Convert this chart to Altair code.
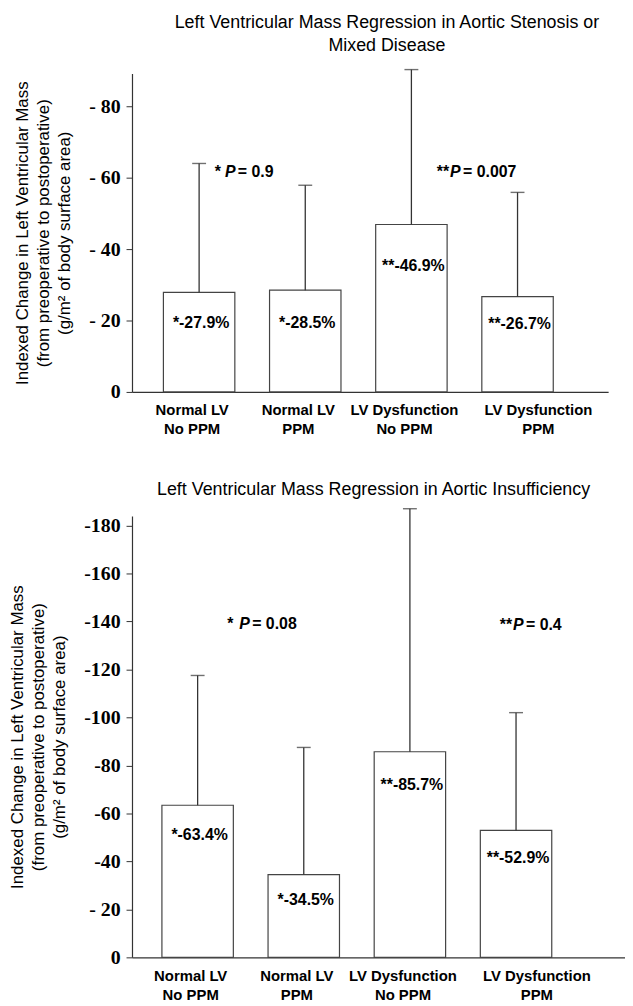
import altair as alt
import pandas as pd

# ---------------- data ----------------
cats = ["Normal LV|No PPM", "Normal LV|PPM", "LV Dysfunction|No PPM", "LV Dysfunction|PPM"]

top_title = ["Left Ventricular Mass Regression in Aortic Stenosis or", "Mixed Disease"]
top_vals = [-27.9, -28.5, -46.9, -26.7]
top_err = [-64.0, -57.9, -90.3, -55.9]
top_lbl = ["*-27.9%", "*-28.5%", "**-46.9%", "**-26.7%"]
top_lbl_y = [-19.2, -19.2, -35.4, -19.0]
top_ticks = [-80, -60, -40, -20, 0]
top_p_cat = [cats[0], cats[2]]
top_p_pre = ["*", "**"]
top_p_val = ["= 0.9", "= 0.007"]
top_p_y = [-61.7, -61.7]
top_p_dx = [26, 39]
top_p_gap = [4, 1]

bot_title = ["Left Ventricular Mass Regression in Aortic Insufficiency"]
bot_vals = [-63.4, -34.5, -85.7, -52.9]
bot_err = [-117.5, -87.5, -187.0, -102.0]
bot_lbl = ["*-63.4%", "*-34.5%", "**-85.7%", "**-52.9%"]
bot_lbl_y = [-50.8, -23.8, -72.0, -41.4]
bot_ticks = [-180, -160, -140, -120, -100, -80, -60, -40, -20, 0]
bot_p_cat = [cats[0], cats[3]]
bot_p_pre = ["*", "**"]
bot_p_val = ["= 0.08", "= 0.4"]
bot_p_y = [-139.0, -138.5]
bot_p_dx = [42, -3]
bot_p_gap = [6, 1]

y_title = ["Indexed Change in Left Ventricular Mass",
           "(from preoperative to postoperative)",
           "(g/m\u00b2 of body surface area)"]

SANS = "Liberation Sans"
SERIF = "Liberation Serif"
INK = "#333333"


def panel(title, title_dx, title_offset, vals, err, lbl, lbl_y, ticks, ymin, label_expr,
          p_cat, p_pre, p_val, p_y, p_dx, p_gap, width, height, pad_outer, align):
    df = pd.DataFrame({"cat": cats, "val": vals, "err": err,
                       "lbl": lbl, "lbl_y": lbl_y})
    xs = alt.X("cat:N", sort=cats,
               scale=alt.Scale(paddingInner=0.327, paddingOuter=pad_outer, align=align),
               axis=alt.Axis(title=None, labelExpr="split(datum.value, '|')",
                             labelAngle=0, ticks=False, domainColor=INK,
                             domainWidth=1.2,
                             labelFont=SANS, labelFontWeight="bold",
                             labelFontSize=15, labelColor="black",
                             labelPadding=11, labelLineHeight=19,
                             labelBaseline="top",
                             labelOffset={"condition": {"test": "datum.value == 'LV Dysfunction|PPM'",
                                                        "value": 21},
                                          "value": -7}))
    xp = alt.X("cat:N", sort=cats)
    yscale = alt.Scale(domain=[ymin, 0], reverse=True, nice=False, zero=False)
    yaxis = alt.Axis(title=y_title, values=ticks, labelExpr=label_expr, grid=False,
                     tickSize=6, tickColor=INK, domainColor=INK, domainWidth=1.2,
                     labelFont=SERIF, labelFontWeight="bold", labelFontSize=20,
                     labelColor="black", labelPadding=6,
                     titleFont=SANS, titleFontWeight="normal", titleFontSize=17,
                     titleColor="black", titleLineHeight=21.5, titlePadding=15)

    base = alt.Chart(df)
    bars = base.mark_bar(fill="white", stroke="#444444", strokeWidth=1.2).encode(
        x=xs, y=alt.Y("val:Q", scale=yscale, axis=yaxis))
    rules = base.mark_rule(color=INK, strokeWidth=1.3).encode(
        x=xp, y="val:Q", y2="err:Q")
    caps = base.mark_tick(color=INK, size=14, thickness=1.4).encode(
        x=xp, y="err:Q")
    texts = base.mark_text(font=SANS, fontWeight="bold", fontSize=16,
                           color="black", dx=2).encode(
        x=xp, y="lbl_y:Q", text="lbl:N")

    layers = [bars, rules, caps, texts]
    for c, pre, v, yy, d, g in zip(p_cat, p_pre, p_val, p_y, p_dx, p_gap):
        pdf = pd.DataFrame({"cat": [c], "y": [yy], "pre": [pre], "P": ["P"], "v": [v]})
        pb = alt.Chart(pdf)
        layers.append(pb.mark_text(font=SANS, fontWeight="bold", fontSize=16,
                                   color="black", align="right", dx=d - g).encode(
            x=xp, y="y:Q", text="pre:N"))
        layers.append(pb.mark_text(font=SANS, fontWeight="bold", fontStyle="italic",
                                   fontSize=16, color="black", align="left", dx=d).encode(
            x=xp, y="y:Q", text="P:N"))
        layers.append(pb.mark_text(font=SANS, fontWeight="bold", fontSize=16,
                                   color="black", align="left", dx=d + 13).encode(
            x=xp, y="y:Q", text="v:N"))

    return alt.layer(*layers).properties(
        width=width, height=height,
        title=alt.TitleParams(text=title, font=SANS, fontSize=18, fontWeight="normal",
                              color="black", anchor="middle", dx=title_dx,
                              lineHeight=23, offset=title_offset, frame="group"))


top = panel(top_title, 17, 14, top_vals, top_err, top_lbl, top_lbl_y, top_ticks, -89.2,
            "datum.value == 0 ? '0' : '- ' + abs(datum.value)",
            top_p_cat, top_p_pre, top_p_val, top_p_y, top_p_dx, top_p_gap,
            480, 321, 0.4065, 0.364)

bot = panel(bot_title, -5, 9, bot_vals, bot_err, bot_lbl, bot_lbl_y, bot_ticks, -184.0,
            "datum.value == 0 ? '0' : (datum.value == -20 ? '- 20' : '-' + abs(datum.value))",
            bot_p_cat, bot_p_pre, bot_p_val, bot_p_y, bot_p_dx, bot_p_gap,
            497, 445, 0.486, 0.29)

chart = alt.vconcat(top, bot, spacing=45).resolve_scale(x="independent", y="independent").properties(
    padding={"left": 0, "top": 2, "right": 0, "bottom": 0}
).configure(background="white").configure_view(stroke=None)

chart.save("out.html", embed_options={"renderer": "svg", "actions": False})
